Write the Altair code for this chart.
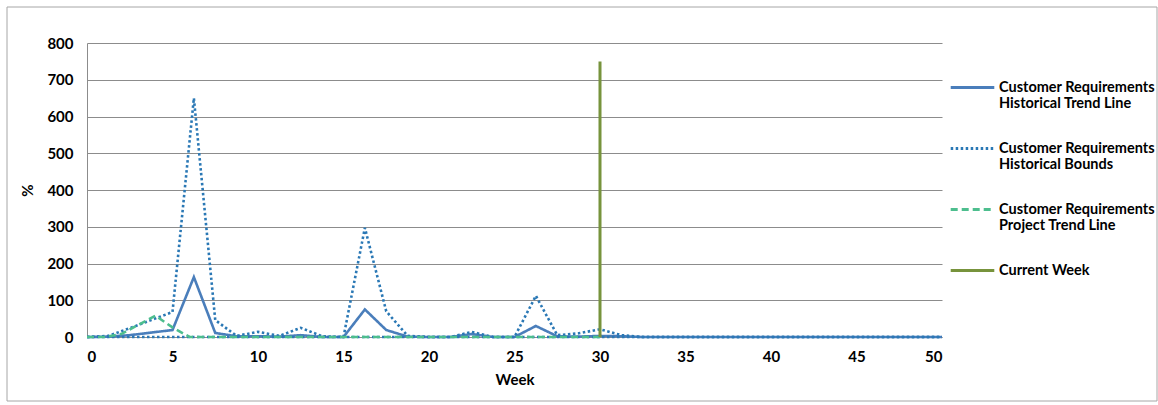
import altair as alt
import pandas as pd

# ---- data ----
hist_weeks = [0, 1.25, 2.5, 3.75, 5, 6.25, 7.5, 8.75, 10, 11.25, 12.5, 13.75, 15, 16.25,
              17.5, 18.75, 20, 21.25, 22.5, 23.75, 25, 26.25, 27.5, 28.75, 30, 31.25,
              32.5, 33.75, 35, 36.25, 37.5, 38.75, 40, 41.25, 42.5, 43.75, 45, 46.25,
              47.5, 48.75, 50]
trend_vals = [0, 1, 5, 12, 19, 163, 11, 2, 2, 1, 5, 0, 0, 75,
              19, 1, 0, 0, 8, 0, 0, 30, 2, 1, 3, 2,
              0, 0, 0, 0, 0, 0, 0, 0, 0, 0, 0, 0,
              0, 0, 0]
upper_vals = [0, 3, 24, 46, 68, 650, 46, 3, 14, 3, 25, 2, 0, 297,
              70, 3, 0, 0, 14, 0, 0, 112, 5, 10, 21, 5,
              0, 0, 0, 0, 0, 0, 0, 0, 0, 0, 0, 0,
              0, 0, 0]
lower_vals = [0, 0, 0, 0, 0, 0, 0, 0, 0, 0, 0, 0, 0, 0,
              0, 0, 0, 0, 0, 0, 0, 0, 0, 0, 0, 0,
              0, 0, 0, 0, 0, 0, 0, 0, 0, 0, 0, 0,
              0, 0, 0]
proj_weeks = [0, 1, 2, 3, 4, 5, 6, 7, 8, 9, 10, 11, 12, 13, 14, 15, 16, 17, 18, 19,
              20, 21, 22, 23, 24, 25, 26, 27, 28, 29, 30]
proj_vals = [0, 0, 8, 33, 58, 26, 0, 0, 0, 0, 0, 0, 0, 0, 0, 0, 0, 0, 0, 0,
             0, 0, 0, 0, 0, 0, 0, 0, 0, 0, 0]
current_week = [30]
current_top = [750]

series_names = ["Customer Requirements\nHistorical Trend Line",
                "Customer Requirements\nHistorical Bounds",
                "Customer Requirements\nProject Trend Line",
                "Current Week"]
series_colors = ["#4A7EBB", "#2A78B5", "#4DBE8E", "#77933C"]
series_dashes = [[1, 0], [2.5, 2.5], [7, 4], [1, 0]]
x_ticks = [0, 5, 10, 15, 20, 25, 30, 35, 40, 45, 50]
y_ticks = [0, 100, 200, 300, 400, 500, 600, 700, 800]

# ---- tables ----
rows = []
for w, v in zip(hist_weeks, trend_vals):
    rows.append({"week": w, "value": v, "series": series_names[0], "part": "trend"})
for w, v in zip(hist_weeks, upper_vals):
    rows.append({"week": w, "value": v, "series": series_names[1], "part": "upper"})
for w, v in zip(hist_weeks, lower_vals):
    rows.append({"week": w, "value": v, "series": series_names[1], "part": "lower"})
hist_df = pd.DataFrame(rows)
proj_df = pd.DataFrame({"week": proj_weeks, "value": proj_vals,
                        "series": series_names[2], "part": "project"})
cw_df = pd.DataFrame({"week": current_week, "value": [0], "top": current_top,
                      "series": series_names[3]})

FONT = "Lato"
color_scale = alt.Scale(domain=series_names, range=series_colors)
dash_scale = alt.Scale(domain=series_names, range=series_dashes)

legend = alt.Legend(
    title=None, orient="none", legendX=862, legendY=21,
    symbolType="stroke", symbolSize=1900, symbolStrokeWidth=3,
    labelFont=FONT, labelFontSize=14.5, labelFontWeight="bold", labelColor="#000000",
    labelLimit=300, labelOffset=3, rowPadding=14,
    labelExpr="split(datum.label, '\\n')",
)

x_axis = alt.Axis(title="Week", values=x_ticks, grid=False, ticks=False,
                  domain=True, domainColor="#8C8C8C", labelPadding=12,
                  titlePadding=8, labelOverlap=False)
y_axis = alt.Axis(title="%", values=y_ticks, grid=True, gridColor="#8C8C8C",
                  ticks=False, domain=True, domainColor="#8C8C8C",
                  labelPadding=14, titlePadding=11, labelOverlap=False)
x_scale = alt.Scale(domain=[0, 50], nice=False)
y_scale = alt.Scale(domain=[0, 800], nice=False)


def xe():
    return alt.X("week:Q", scale=x_scale, axis=x_axis)


def ye():
    return alt.Y("value:Q", scale=y_scale, axis=y_axis)


def ce():
    return alt.Color("series:N", scale=color_scale, legend=legend, sort=series_names)


def de():
    return alt.StrokeDash("series:N", scale=dash_scale, legend=legend, sort=series_names)


hist = alt.Chart(hist_df).mark_line(strokeWidth=2.6).encode(
    x=xe(), y=ye(), color=ce(), strokeDash=de(), detail="part:N",
)
proj = alt.Chart(proj_df).mark_line(strokeWidth=2.6).encode(
    x=xe(), y=ye(), color=ce(), strokeDash=de(),
)
cw = alt.Chart(cw_df).mark_rule(strokeWidth=3).encode(
    x=xe(), y=ye(), y2="top:Q", color=ce(), strokeDash=de(),
)
frame = alt.Chart(pd.DataFrame({"k": [0]})).mark_rect(
    fill=None, stroke="#A6A6A6", strokeWidth=1).encode(
    x=alt.value(-80), x2=alt.value(1070), y=alt.value(-36), y2=alt.value(358))

chart = alt.layer(frame, hist, proj, cw).properties(
    width=855, height=294,
    autosize=alt.AutoSizeParams(type="none"),
    padding={"left": 87, "top": 43, "right": 216, "bottom": 68},
    background="#FFFFFF",
).configure_view(stroke=None).configure_axis(
    labelFont=FONT, labelFontSize=15, labelFontWeight="bold", labelColor="#000000",
    titleFont=FONT, titleFontSize=15, titleFontWeight="bold", titleColor="#000000",
)

chart.save("out.html", embed_options={"renderer": "svg", "actions": False})
